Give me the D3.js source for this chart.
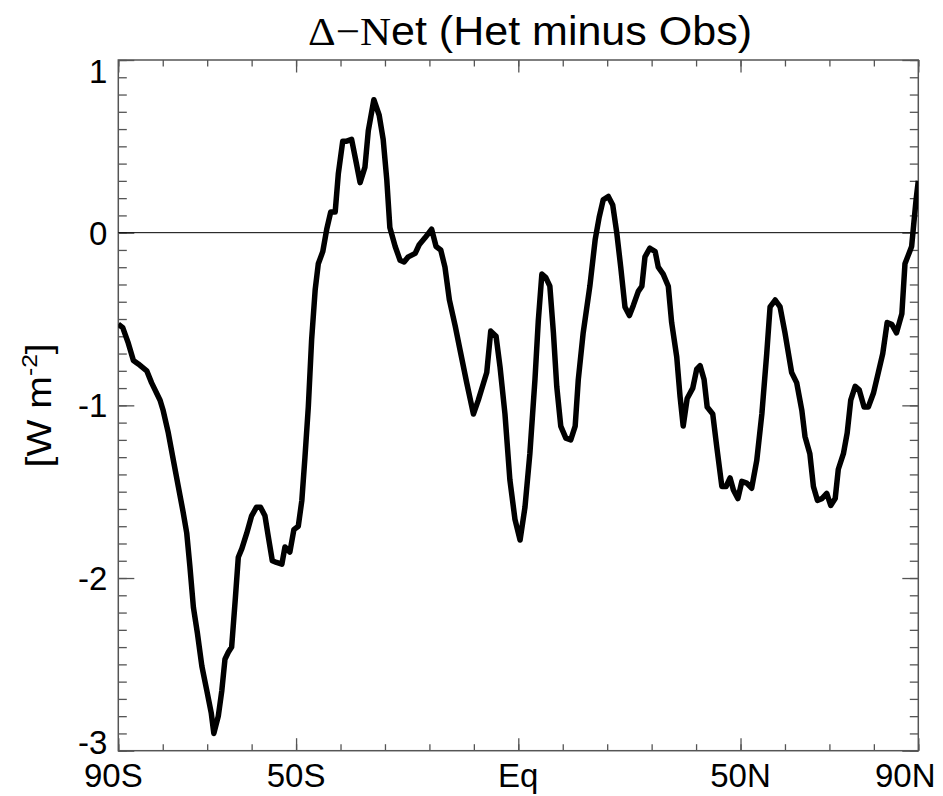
<!DOCTYPE html>
<html>
<head>
<meta charset="utf-8">
<script src="https://cdn.jsdelivr.net/npm/d3@7"></script>
<style>
  body { margin: 0; background: #fff; }
  text { font-family: "Liberation Sans", Arial, Helvetica, sans-serif; fill: #000; }
</style>
</head>
<body>
<svg id="chart" width="943" height="796"></svg>
<script>
// Zonal-mean difference of net radiation, Het minus Obs, by latitude (degrees, S negative)
const latitudes = [
  -90, -89, -87.75, -86.6, -85.5, -83.6, -82.5, -80.6, -79.9, -78.75,
  -77.6, -76.5, -75.4, -74.6, -73.9, -73.1, -72.2, -71.2, -70.1, -69.1,
  -68.5, -67.5, -66.7, -66, -65.25, -64.5, -63.7, -63, -62.2, -61.1,
  -60, -58.9, -58, -57, -56.25, -55.35, -54.4, -53.2, -52.5, -51.4,
  -50.5, -49.5, -48.7, -48, -47.25, -46.5, -45.7, -45, -44, -43.1,
  -42.2, -41.2, -40.5, -39.5, -38.6, -37.5, -36.5, -35.6, -34.5, -33.75,
  -32.5, -31.3, -30.4, -29.6, -28.9, -27.7, -26.6, -25.7, -24.75, -23.2,
  -22.3, -21, -19.5, -18.5, -17.45, -16.5, -15.5, -14.2, -13.1, -11.6,
  -10.1, -9, -7.1, -6.2, -5, -4.1, -3, -1.9, -0.75, 0.4,
  1.5, 2.6, 3.75, 4.5, 5.3, 6.2, 7.1, 7.9, 8.65, 9.55,
  10.7, 11.8, 12.8, 13.5, 14.6, 16.1, 17.3, 18.2, 19.1, 20.25,
  21.25, 22.15, 23.05, 24, 25, 25.9, 27, 27.8, 28.5, 29.6,
  30.8, 31.5, 32.6, 33.75, 34.5, 35.65, 36.4, 37.1, 38, 39.25,
  40.15, 40.9, 41.8, 42.5, 43.75, 44.65, 45.8, 46.75, 47.65, 48.4,
  49.4, 50.3, 51.4, 52.5, 53.65, 54.8, 55.9, 56.65, 57.8, 58.9,
  60, 61.5, 62.65, 63.8, 64.5, 65.6, 66.4, 67.3, 68.3, 69.4,
  70.3, 71.3, 72, 73.15, 74, 74.8, 75.8, 76.7, 77.8, 78.75,
  79.9, 81, 82, 83, 84, 85.1, 86.3, 87, 87.75, 88.5,
  89.05, 89.5, 90
];

// Delta-Net [W m-2]
const netDiff = [
  -0.53, -0.55, -0.64, -0.74, -0.76, -0.80, -0.87, -0.97, -1.03, -1.16,
  -1.32, -1.47, -1.62, -1.74, -1.93, -2.17, -2.32, -2.51, -2.65, -2.78,
  -2.90, -2.80, -2.65, -2.47, -2.43, -2.40, -2.13, -1.88, -1.83, -1.74,
  -1.64, -1.59, -1.59, -1.64, -1.76, -1.90, -1.91, -1.92, -1.82, -1.85,
  -1.72, -1.70, -1.55, -1.30, -1.01, -0.62, -0.33, -0.18, -0.11, 0.02,
  0.12, 0.12, 0.34, 0.53, 0.53, 0.54, 0.41, 0.29, 0.38, 0.59,
  0.77, 0.68, 0.54, 0.31, 0.03, -0.08, -0.16, -0.17, -0.14, -0.12,
  -0.07, -0.03, 0.02, -0.08, -0.10, -0.20, -0.39, -0.54, -0.68, -0.87,
  -1.05, -0.97, -0.81, -0.57, -0.60, -0.78, -1.05, -1.43, -1.66, -1.78,
  -1.59, -1.28, -0.85, -0.51, -0.24, -0.26, -0.31, -0.58, -0.89, -1.12,
  -1.19, -1.20, -1.12, -0.85, -0.58, -0.31, -0.04, 0.09, 0.19, 0.21,
  0.16, 0.00, -0.20, -0.43, -0.48, -0.42, -0.34, -0.31, -0.14, -0.09,
  -0.11, -0.20, -0.24, -0.31, -0.52, -0.72, -0.95, -1.12, -0.96, -0.90,
  -0.79, -0.77, -0.85, -1.01, -1.05, -1.24, -1.47, -1.47, -1.42, -1.49,
  -1.54, -1.44, -1.45, -1.48, -1.32, -1.05, -0.70, -0.43, -0.39, -0.43,
  -0.58, -0.81, -0.87, -1.03, -1.18, -1.28, -1.47, -1.55, -1.54, -1.51,
  -1.58, -1.54, -1.37, -1.28, -1.16, -0.97, -0.89, -0.91, -1.01, -1.01,
  -0.93, -0.81, -0.70, -0.52, -0.53, -0.58, -0.47, -0.18, -0.13, -0.08,
  0.07, 0.19, 0.30
];

const xTickValues = [-90, -50, 0, 50, 90];
const xTickLabels = ["90S", "50S", "Eq", "50N", "90N"];
const xMinorValues = d3.range(-90, 91, 10);

const yTickValues = [-3, -2, -1, 0, 1];
const yTickLabels = ["-3", "-2", "-1", "0", "1"];
const yMinorValues = d3.range(-30, 11, 1).map(v => v / 10);

// ---- layout ----
const width = 943, height = 796;
const margin = { top: 60, right: 24.7, bottom: 45.3, left: 118.3 };
const plotW = width - margin.left - margin.right;
const plotH = height - margin.top - margin.bottom;

const svg = d3.select("#chart");
const g = svg.append("g").attr("transform", `translate(${margin.left},${margin.top})`);

const x = d3.scaleLinear().domain([-90, 90]).range([0, plotW]);
const y = d3.scaleLinear().domain([-3, 1]).range([plotH, 0]);

const axisColor = "#555";

// Frame axes with inward-pointing ticks
function styleAxis(sel) {
  sel.select(".domain").remove();
  sel.selectAll(".tick line").attr("stroke", axisColor).attr("stroke-width", 1.3);
  sel.selectAll("text").remove();
}

// bottom
g.append("g").attr("transform", `translate(0,${plotH})`)
  .call(d3.axisBottom(x).tickValues(xMinorValues).tickSize(-6.5).tickFormat(""))
  .call(styleAxis);
g.append("g").attr("transform", `translate(0,${plotH})`)
  .call(d3.axisBottom(x).tickValues(xTickValues).tickSize(-12.5).tickFormat(""))
  .call(styleAxis);
// top
g.append("g")
  .call(d3.axisTop(x).tickValues(xMinorValues).tickSize(-6.5).tickFormat(""))
  .call(styleAxis);
g.append("g")
  .call(d3.axisTop(x).tickValues(xTickValues).tickSize(-12.5).tickFormat(""))
  .call(styleAxis);
// left
g.append("g")
  .call(d3.axisLeft(y).tickValues(yMinorValues).tickSize(-8.5).tickFormat(""))
  .call(styleAxis);
g.append("g")
  .call(d3.axisLeft(y).tickValues(yTickValues).tickSize(-16).tickFormat(""))
  .call(styleAxis);
// right
g.append("g").attr("transform", `translate(${plotW},0)`)
  .call(d3.axisRight(y).tickValues(yMinorValues).tickSize(-8.5).tickFormat(""))
  .call(styleAxis);
g.append("g").attr("transform", `translate(${plotW},0)`)
  .call(d3.axisRight(y).tickValues(yTickValues).tickSize(-16).tickFormat(""))
  .call(styleAxis);

// frame
g.append("rect")
  .attr("x", 0).attr("y", 0).attr("width", plotW).attr("height", plotH)
  .attr("fill", "none").attr("stroke", axisColor).attr("stroke-width", 1.5);

// zero reference line
g.append("line")
  .attr("x1", 0).attr("x2", plotW)
  .attr("y1", y(0)).attr("y2", y(0))
  .attr("stroke", "#000").attr("stroke-width", 1);

// x tick labels (kept inside the figure at the ends)
const labelFont = 33;
g.selectAll(".xlab").data(xTickValues).enter().append("text")
  .attr("class", "xlab")
  .attr("x", (d, i) => x(d) + (i === 0 ? -5 : i === xTickValues.length - 1 ? -13 : 0))
  .attr("y", plotH + 36)
  .attr("text-anchor", "middle")
  .attr("font-size", labelFont)
  .text((d, i) => xTickLabels[i]);

// y tick labels, clamped so the end labels sit within the frame height
g.selectAll(".ylab").data(yTickValues).enter().append("text")
  .attr("class", "ylab")
  .attr("x", -11)
  .attr("y", d => Math.min(Math.max(y(d), 11), plotH - 9))
  .attr("dy", "0.36em")
  .attr("text-anchor", "end")
  .attr("font-size", labelFont)
  .text((d, i) => yTickLabels[i]);

// y-axis unit label
const yTitle = svg.append("text")
  .attr("transform", `translate(51,${margin.top + y(-1)}) rotate(-90) scale(1.12,1)`)
  .attr("text-anchor", "middle")
  .attr("font-size", 35);
yTitle.append("tspan").text("[W m");
yTitle.append("tspan").attr("dy", -14).attr("font-size", 22).text("-2");
yTitle.append("tspan").attr("dy", 14).text("]");

// title
const title = svg.append("text")
  .attr("x", 530).attr("y", 45)
  .attr("text-anchor", "middle")
  .attr("font-size", 41)
  .attr("textLength", 444)
  .attr("lengthAdjust", "spacingAndGlyphs");
title.append("tspan").attr("font-family", "'Liberation Serif', 'Times New Roman', serif").text("\u0394\u2212N");
title.append("tspan").text("et (Het minus Obs)");

// data line
const clipId = "plot-clip";
g.append("clipPath").attr("id", clipId)
  .append("rect").attr("x", 0).attr("y", -5).attr("width", plotW).attr("height", plotH + 10);

const series = latitudes.map((lat, i) => ({ lat, v: netDiff[i] }));
const line = d3.line().x(d => x(d.lat)).y(d => y(d.v));

g.append("path")
  .datum(series)
  .attr("clip-path", `url(#${clipId})`)
  .attr("fill", "none")
  .attr("stroke", "#000")
  .attr("stroke-width", 5.5)
  .attr("stroke-linejoin", "round")
  .attr("stroke-linecap", "butt")
  .attr("d", line);
</script>
</body>
</html>
